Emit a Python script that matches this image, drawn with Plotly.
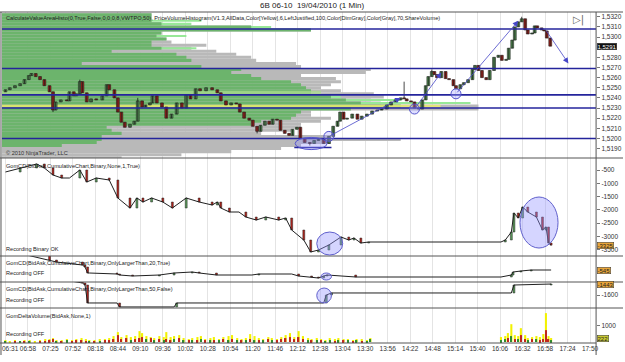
import plotly.graph_objects as go

# ---------------- data ----------------
TITLE = "6B 06-10  19/04/2010 (1 Min)"
TIME_LABELS = ["06:31", "06:58", "07:25", "07:52", "08:18", "08:44", "09:10", "09:36", "10:02",
               "10:28", "10:54", "11:20", "11:46", "12:12", "12:38", "13:04", "13:30", "13:56",
               "14:22", "14:48", "15:14", "15:40", "16:06", "16:32", "16:58", "17:24", "17:50"]
TIME_TICK_BARS = [0, 26, 52, 78, 104, 130, 156, 182, 208, 234, 260, 286, 312, 338, 364, 390,
                  416, 442, 468, 494, 520, 546, 572, 598, 624, 650, 676]

PRICE_BARS = [0, 5, 11, 17, 22, 27, 30, 35, 40, 45, 51, 55, 58, 64, 71, 74, 79, 82, 86, 89,
              94, 99, 105, 112, 117, 120, 126, 130, 134, 138, 144, 149, 153, 158, 162, 167, 170,
              175, 181, 186, 192, 198, 204, 209, 214, 220, 225, 232, 239, 245, 249, 255, 261,
              267, 271, 276, 282, 286, 291, 295, 300, 305, 309, 314, 318, 323, 328, 332, 337,
              341, 346, 352, 357, 362, 368, 374, 379, 384, 387, 391, 395, 401, 407, 412, 418,
              424, 430, 435, 441, 446, 451, 457, 461, 464, 469, 473, 478, 482, 486, 489, 493,
              496, 499, 504, 509, 513, 518, 521, 526, 530, 535, 540, 543, 547, 551, 556, 560,
              565, 570, 574, 579, 582, 586, 589, 593, 597, 601, 604, 609, 612, 615, 620, 623,
              626, 630]
PRICE_CLOSE = [1.5248, 1.5250, 1.5252, 1.5254, 1.5258, 1.5262, 1.5264, 1.5261, 1.5258, 1.5252,
               1.5246, 1.5228, 1.5236, 1.5238, 1.5237, 1.5246, 1.5242, 1.5244, 1.5256, 1.5245,
               1.5236, 1.5239, 1.5238, 1.5242, 1.5253, 1.5248, 1.5240, 1.5226, 1.5216, 1.5211,
               1.5214, 1.5217, 1.5237, 1.5231, 1.5233, 1.5235, 1.5242, 1.5235, 1.5231, 1.5220,
               1.5224, 1.5235, 1.5230, 1.5243, 1.5239, 1.5249, 1.5247, 1.5250, 1.5248, 1.5245,
               1.5237, 1.5233, 1.5235, 1.5234, 1.5226, 1.5220, 1.5218, 1.5212, 1.5207, 1.5213,
               1.5217, 1.5214, 1.5219, 1.5218, 1.5208, 1.5205, 1.5203, 1.5209, 1.5211, 1.5200,
               1.5196, 1.5195, 1.5198, 1.5199, 1.5195, 1.5202, 1.5212, 1.5217, 1.5226, 1.5219,
               1.5220, 1.5224, 1.5219, 1.5222, 1.5224, 1.5227, 1.5228, 1.5229, 1.5233, 1.5236,
               1.5238, 1.5240, 1.5239, 1.5237, 1.5236, 1.5230, 1.5229, 1.5238, 1.5252, 1.5261,
               1.5266, 1.5263, 1.5260, 1.5266, 1.5259, 1.5258, 1.5252, 1.5249, 1.5253, 1.5255,
               1.5258, 1.5268, 1.5272, 1.5267, 1.5260, 1.5258, 1.5267, 1.5280, 1.5282, 1.5277,
               1.5278, 1.5289, 1.5297, 1.5310, 1.5315, 1.5318, 1.5307, 1.5303, 1.5304, 1.5311,
               1.5309, 1.5307, 1.5306, 1.5299, 1.5291]
PRICE_FIRST_OPEN = 1.5246
PRICE_WICK_HIGH = {86: 1.5258, 153: 1.5240, 461: 1.5256, 493: 1.5268, 597: 1.5320}
PRICE_WICK_LOW = {55: 1.5226, 291: 1.5205, 352: 1.5193}
PRICE_TICKS = [1.5190, 1.5200, 1.5210, 1.5220, 1.5230, 1.5240, 1.5250, 1.5260, 1.5270,
               1.5280, 1.5300, 1.5310, 1.5320]
LAST_PRICE = 1.5291
LEVEL_LINES = [1.5308, 1.5269, 1.5243, 1.5230, 1.5200]

PROFILE_PRICE = [1.5322, 1.5319, 1.5316, 1.5313, 1.5310, 1.5307, 1.5304, 1.5301, 1.5298, 1.5295,
                 1.5292, 1.5289, 1.5286, 1.5283, 1.5280, 1.5277, 1.5274, 1.5271, 1.5268, 1.5265,
                 1.5262, 1.5259, 1.5256, 1.5253, 1.5250, 1.5247, 1.5244, 1.5241, 1.5238, 1.5235,
                 1.5232, 1.5229, 1.5226, 1.5223, 1.5220, 1.5217, 1.5214, 1.5211, 1.5208, 1.5205,
                 1.5202, 1.5199, 1.5196, 1.5193, 1.5190, 1.5187, 1.5184, 1.5181]
PROFILE_GRAY = [150, 150, 150, 160, 250, 310, 160, 160, 165, 170, 205, 190, 215, 235, 250, 255,
                295, 300, 370, 365, 300, 335, 340, 330, 320, 340, 373, 383, 370, 380, 478, 478,
                310, 310, 330, 320, 300, 300, 290, 260, 330, 400, 330, 300, 280, 230, 180, 120]
PROFILE_GREEN = [150, 150, 150, 160, 250, 310, 160, 155, 165, 150, 150, 160, 110, 175, 185, 190,
                 80, 200, 240, 230, 250, 260, 290, 300, 305, 310, 310, 330, 345, 360, 400, 350,
                 300, 295, 290, 260, 250, 105, 110, 120, 100, 100, 95, 60, 0, 0, 0, 0]
PROFILE_LIME = [0, 0, 200, 190, 270, 300, 0, 185, 0, 0, 0, 195, 0, 0, 0, 0,
                0, 0, 0, 0, 0, 0, 0, 0, 0, 0, 0, 340, 400, 470, 0, 0,
                0, 0, 0, 0, 0, 0, 0, 0, 0, 0, 0, 0, 0, 0, 0, 0]
VWTPO_BAND = (1.5245, 320)
POC_LEVEL = (1.5232, 440)

# trend arrows (bar, price) -> (bar, price)
ARROWS = [((374, 1.5202), (457, 1.5240)),
          ((473, 1.5229), (504, 1.5265)),
          ((521, 1.5244), (593, 1.5316)),
          ((624, 1.5308), (651, 1.5274))]
PIVOT_CIRCLES = [(374, 1.5202), (473, 1.5229), (521, 1.5244)]
PRICE_ELLIPSE = (335, 372, 1.5189, 1.5201)
PRICE_SEGMENT = (334, 377, 1.5191)

# cumulative delta (panel 2)
CD_BARS = [0, 17, 36, 45, 55, 65, 74, 86, 94, 105, 120, 130, 144, 152, 159, 169, 182, 193, 209,
           224, 239, 245, 249, 259, 270, 278, 290, 301, 316, 324, 331, 345, 353, 362, 374, 388,
           397, 403, 411, 420, 573, 578, 585, 588, 593, 598, 604, 614, 621, 625, 628, 631]
CD_VALUES = [-575, -425, -274, -425, -688, -801, -801, -500, -951, -801, -876, -1553, -1929,
             -1553, -1703, -1553, -1703, -1929, -1553, -1703, -1816, -1703, -1929, -2079, -2079,
             -2267, -2380, -2267, -2380, -2305, -2756, -3132, -3583, -3508, -3320, -3019, -3132,
             -3057, -3245, -3207, -3207, -3132, -2831, -2117, -2305, -1891, -2079, -2267, -2756,
             -2643, -3245, -3325]
CD_TICKS = [-500, -1000, -1500, -2000, -2500, -3000, -3500]
CD_LAST = -3325
CD_ELLIPSES = [(360, 390, -3696, -2831), (595, 639, -3433, -1515)]

# cumulative delta, only larger than 20 (panel 3)
CD20_BARS = [0, 51, 59, 89, 92, 95, 97, 129, 132, 147, 178, 195, 216, 224, 244, 262, 285, 293,
             331, 339, 354, 362, 368, 372, 405, 573, 585, 587, 596, 608, 631]
CD20_VALUES = [-245, -395, -425, -470, -500, -590, -590, -605, -620, -635, -620, -590, -575,
               -590, -620, -620, -620, -605, -605, -635, -650, -665, -635, -620, -650, -650,
               -620, -575, -560, -545, -545]
CD20_LAST = -545
CD20_CIRCLE = (365, 377, -695, -590)

# cumulative delta, only larger than 50 (panel 4)
CD50_BARS = [0, 89, 92, 95, 97, 129, 132, 195, 198, 368, 371, 377, 585, 588, 631]
CD50_VALUES = [-1243, -1428, -1457, -1714, -1714, -1714, -1771, -1771, -1714, -1714, -1600,
               -1571, -1571, -1457, -1443]
CD50_TICKS = [-1600]
CD50_LAST = -1443
CD50_CIRCLE = (360, 377, -1714, -1500)

# delta volume (panel 5)
VOL_BARS = [0, 5, 11, 17, 22, 28, 34, 40, 46, 51, 55, 59, 65, 71, 77, 82, 88, 93, 97, 103, 109,
            115, 120, 125, 130, 134, 140, 145, 150, 155, 158, 163, 168, 172, 178, 183, 186, 191,
            195, 201, 206, 212, 216, 222, 226, 231, 237, 241, 247, 252, 258, 262, 268, 273, 278,
            283, 288, 293, 298, 304, 308, 314, 319, 324, 329, 334, 339, 344, 350, 354, 360, 365,
            370, 375, 381, 385, 391, 396, 402, 406, 412, 418, 422,
            573, 578, 581, 585, 589, 593, 596, 601, 604, 609, 614, 618, 622, 625, 628, 631]
VOL_TOTAL = [120, 60, 120, 60, 120, 120, 60, 120, 180, 180, 240, 120, 120, 180, 120, 180, 240,
             180, 120, 120, 180, 180, 240, 360, 600, 300, 420, 300, 360, 660, 540, 360, 300, 240,
             360, 300, 600, 300, 360, 420, 240, 180, 240, 300, 360, 180, 240, 300, 180, 300, 360,
             420, 240, 180, 240, 480, 360, 240, 180, 300, 240, 180, 300, 420, 540, 300, 660, 360,
             240, 180, 240, 180, 120, 240, 180, 240, 180, 180, 120, 180, 180, 120, 240,
             300, 360, 540, 1080, 420, 360, 840, 420, 240, 300, 360, 300, 480, 1750, 360, 240]
VOL_DELTA = [60, 0, -60, 60, -60, 60, 0, -60, -60, -120, -180, 60, -60, 120, -60, -120, -120,
             -60, 60, -60, 60, -120, -120, -180, -420, -180, -240, 120, -180, -240, -300, 180,
             -240, 120, -180, 120, -180, -120, 180, -240, 120, -120, 120, -120, 180, -120, 120,
             -120, 120, -180, 120, -180, 120, -120, 120, -180, 120, -120, 120, -180, 120, -120,
             -180, -240, -300, -180, -300, -180, 120, -120, 120, -120, 60, 120, -60, 120, -120,
             120, -60, 120, -60, 60, 180,
             120, 180, -240, 360, -180, 180, -420, -180, 120, -180, 180, -120, -180, -720, -180,
             120]
VOL_TICKS = [1000]
VOL_LAST = 222

INDICATOR_TEXT = ("CalculateValueAreaHisto(0,True,False,0,0,0,8,VWTPO,50), PriceVolumeHistogram"
                  "(V1.3,AllData,Color[Yellow],6,LeftJustified,100,Color[DimGray],Color[Gray],70,ShareVolume)")
PANEL_TEXTS = [
    ("GomCD(BidAsk,CumulativeChart,Binary,None,1,True)", 166),
    ("Recording Binary OK", 249),
    ("GomCD(BidAsk,CumulativeChart,Binary,OnlyLargerThan,20,True)", 263),
    ("Recording OFF", 273),
    ("GomCD(BidAsk,CumulativeChart,Binary,OnlyLargerThan,50,False)", 289),
    ("Recording OFF", 300),
    ("GomDeltaVolume(BidAsk,None,1)", 316),
    ("Recording OFF", 334),
]

# ---------------- styling / layout helpers ----------------
W, H = 625, 362
FONT = "Liberation Sans, Arial, sans-serif"
UP = "#5a9c5a"
DOWN = "#b3231b"
BLUE = "#24249c"
EDGE = "#1a1a1a"


def pyp(p):
    return 1 - p / H


XD = [2 / W, 598 / W]
XR = [-4.0, 683.0]
DOM = {"y": [pyp(158), pyp(12)], "y2": [pyp(256), pyp(158)], "y3": [pyp(282), pyp(256)],
       "y4": [pyp(308), pyp(282)], "y5": [pyp(343), pyp(308)]}

fig = go.Figure()

# ---- volume profile (base subplot x6/y)
fig.add_trace(go.Bar(x=PROFILE_GRAY, y=PROFILE_PRICE, orientation="h", width=0.0003,
                     marker=dict(color="#b9b9b9", line=dict(width=0)), xaxis="x6", yaxis="y",
                     hoverinfo="skip", showlegend=False))
fig.add_trace(go.Bar(x=PROFILE_LIME, y=PROFILE_PRICE, orientation="h", width=0.0002,
                     marker=dict(color="#98e898", line=dict(width=0)), xaxis="x6", yaxis="y",
                     hoverinfo="skip", showlegend=False))
fig.add_trace(go.Bar(x=PROFILE_GREEN, y=PROFILE_PRICE, orientation="h", width=0.0003,
                     marker=dict(color="#6cb46c", line=dict(width=0)), xaxis="x6", yaxis="y",
                     hoverinfo="skip", showlegend=False))
fig.add_trace(go.Bar(x=[VWTPO_BAND[1]], y=[VWTPO_BAND[0]], orientation="h", width=0.0004,
                     marker=dict(color="rgba(170,220,140,0.75)", line=dict(width=0)),
                     xaxis="x6", yaxis="y", hoverinfo="skip", showlegend=False))
fig.add_trace(go.Bar(x=[POC_LEVEL[1]], y=[POC_LEVEL[0]], orientation="h", width=0.00022,
                     marker=dict(color="rgba(235,235,110,0.85)", line=dict(width=0)),
                     xaxis="x6", yaxis="y", hoverinfo="skip", showlegend=False))

# ---- candles (overlay x7): wicks + bodies
opens = [PRICE_FIRST_OPEN] + PRICE_CLOSE[:-1]
wx, wy = [], []
for b, o, c in zip(PRICE_BARS, opens, PRICE_CLOSE):
    hi = PRICE_WICK_HIGH.get(b, max(o, c))
    lo = PRICE_WICK_LOW.get(b, min(o, c))
    wx += [b, b, None]
    wy += [lo, hi, None]
fig.add_trace(go.Scatter(x=wx, y=wy, mode="lines", line=dict(color=EDGE, width=0.8),
                         xaxis="x7", yaxis="y", hoverinfo="skip", showlegend=False))
body_h = [max(abs(c - o), 0.00003) for o, c in zip(opens, PRICE_CLOSE)]
body_b = [min(o, c) for o, c in zip(opens, PRICE_CLOSE)]
body_c = [UP if c >= o else DOWN for o, c in zip(opens, PRICE_CLOSE)]
fig.add_trace(go.Bar(x=PRICE_BARS, y=body_h, base=body_b, width=3.3,
                     marker=dict(color=body_c, line=dict(color=EDGE, width=0.6)),
                     xaxis="x7", yaxis="y", hoverinfo="skip", showlegend=False))
for lvl in LEVEL_LINES:
    fig.add_trace(go.Scatter(x=XR, y=[lvl, lvl], mode="lines", line=dict(color=BLUE, width=1.6),
                             xaxis="x7", yaxis="y", hoverinfo="skip", showlegend=False))
fig.add_trace(go.Scatter(x=[PRICE_SEGMENT[0], PRICE_SEGMENT[1]],
                         y=[PRICE_SEGMENT[2], PRICE_SEGMENT[2]], mode="lines",
                         line=dict(color=BLUE, width=1.4), xaxis="x7", yaxis="y",
                         hoverinfo="skip", showlegend=False))
fig.add_trace(go.Scatter(x=[c[0] for c in PIVOT_CIRCLES], y=[c[1] for c in PIVOT_CIRCLES],
                         mode="markers",
                         marker=dict(symbol="circle", size=10, color="rgba(160,160,255,0.35)",
                                     line=dict(color="#5555cc", width=1)),
                         xaxis="x7", yaxis="y", hoverinfo="skip", showlegend=False))


# ---- cumulative delta panels
def step_panel(bars, vals, xa, ya, width):
    fig.add_trace(go.Scatter(x=bars, y=vals, mode="lines", line=dict(color="#202020", width=1),
                             xaxis=xa, yaxis=ya, hoverinfo="skip", showlegend=False))
    ob, base, h, col = [], [], [], []
    for i in range(1, len(bars)):
        d = vals[i] - vals[i - 1]
        if d == 0:
            continue
        ob.append(bars[i])
        base.append(vals[i - 1])
        h.append(d)
        col.append(UP if d > 0 else DOWN)
    fig.add_trace(go.Bar(x=ob, y=h, base=base, width=width,
                         marker=dict(color=col, line=dict(color="#202020", width=0.5)),
                         xaxis=xa, yaxis=ya, hoverinfo="skip", showlegend=False))


step_panel(CD_BARS, CD_VALUES, "x2", "y2", 2.2)
step_panel(CD20_BARS, CD20_VALUES, "x3", "y3", 2.2)
step_panel(CD50_BARS, CD50_VALUES, "x4", "y4", 2.2)

# ---- delta volume panel
fig.add_trace(go.Bar(x=VOL_BARS, y=VOL_TOTAL, width=2.4, marker=dict(color="#f2f200", line=dict(width=0)),
                     xaxis="x", yaxis="y5", hoverinfo="skip", showlegend=False))
fig.add_trace(go.Bar(x=VOL_BARS, y=[abs(v) for v in VOL_DELTA], width=1.6,
                     marker=dict(color=["#2e8b2e" if v > 0 else "#c0261c" for v in VOL_DELTA],
                                 line=dict(width=0)),
                     xaxis="x", yaxis="y5", hoverinfo="skip", showlegend=False))

# ---------------- layout ----------------
tick_font = dict(family=FONT, size=6.5, color="#333333")
grid = "#e4e4e4"
xcommon = dict(domain=XD, range=XR, tickvals=TIME_TICK_BARS, showgrid=True, gridcolor=grid,
               gridwidth=1, zeroline=False, showline=False, ticks="")
layout = dict(
    width=W, height=H, margin=dict(l=0, r=0, t=0, b=0),
    paper_bgcolor="white", plot_bgcolor="white", barmode="overlay", showlegend=False,
    xaxis=dict(xcommon, anchor="y5", ticktext=[""] + TIME_LABELS[1:], tickfont=tick_font, ticklen=0),
    xaxis2=dict(xcommon, anchor="y2", showticklabels=False),
    xaxis3=dict(xcommon, anchor="y3", showticklabels=False),
    xaxis4=dict(xcommon, anchor="y4", showticklabels=False),
    xaxis6=dict(domain=XD, range=[0, 596], anchor="y", visible=False),
    xaxis7=dict(xcommon, overlaying="x6", anchor="y", showticklabels=False),
)
ycommon = dict(side="right", showgrid=False, zeroline=False, showline=False, ticks="outside",
               ticklen=3, tickcolor="#777777", tickfont=tick_font)
layout["yaxis"] = dict(ycommon, domain=DOM["y"], anchor="x6", range=[1.51807, 1.53247],
                       tickvals=PRICE_TICKS, ticktext=[f"{t:.4f}".replace(".", ",") for t in PRICE_TICKS])
layout["yaxis2"] = dict(ycommon, domain=DOM["y2"], anchor="x2", range=[-3733, -49],
                        tickvals=CD_TICKS, ticktext=[str(t) for t in CD_TICKS])
layout["yaxis3"] = dict(ycommon, domain=DOM["y3"], anchor="x3", range=[-725, -335],
                        tickvals=[])
layout["yaxis4"] = dict(ycommon, domain=DOM["y4"], anchor="x4", range=[-1786, -1414],
                        tickvals=CD50_TICKS, ticktext=[str(t) for t in CD50_TICKS])
layout["yaxis5"] = dict(ycommon, domain=DOM["y5"], anchor="x", range=[-60, 2060],
                        tickvals=VOL_TICKS, ticktext=[str(t) for t in VOL_TICKS])
fig.update_layout(**layout)

shapes = []
frame = dict(color="#555555", width=1)
for ypx in [12, 158, 256, 282, 308]:
    shapes.append(dict(type="line", xref="paper", yref="paper", x0=0, x1=1, y0=pyp(ypx), y1=pyp(ypx), line=frame))
shapes.append(dict(type="line", xref="paper", yref="paper", x0=0, x1=598 / W, y0=pyp(343), y1=pyp(343), line=frame))
shapes.append(dict(type="line", xref="paper", yref="paper", x0=598 / W, x1=598 / W, y0=pyp(355), y1=pyp(12), line=frame))
shapes.append(dict(type="line", xref="paper", yref="paper", x0=1 / W, x1=1 / W, y0=pyp(355), y1=pyp(12), line=frame))
shapes.append(dict(type="circle", xref="x7", yref="y", x0=PRICE_ELLIPSE[0], x1=PRICE_ELLIPSE[1],
                   y0=PRICE_ELLIPSE[2], y1=PRICE_ELLIPSE[3], fillcolor="rgba(150,150,255,0.35)",
                   line=dict(color="#5555cc", width=1)))
for (x0, x1, y0, y1) in CD_ELLIPSES:
    shapes.append(dict(type="circle", xref="x2", yref="y2", x0=x0, x1=x1, y0=y0, y1=y1,
                       fillcolor="rgba(150,150,255,0.4)", line=dict(color="#6060cc", width=1)))
shapes.append(dict(type="circle", xref="x3", yref="y3", x0=CD20_CIRCLE[0], x1=CD20_CIRCLE[1],
                   y0=CD20_CIRCLE[2], y1=CD20_CIRCLE[3], fillcolor="rgba(150,150,255,0.4)",
                   line=dict(color="#6060cc", width=1)))
shapes.append(dict(type="circle", xref="x4", yref="y4", x0=CD50_CIRCLE[0], x1=CD50_CIRCLE[1],
                   y0=CD50_CIRCLE[2], y1=CD50_CIRCLE[3], fillcolor="rgba(150,150,255,0.4)",
                   line=dict(color="#6060cc", width=1)))
fig.update_layout(shapes=shapes)

ann = []
ann.append(dict(text=TITLE, xref="paper", yref="paper", x=0.5, y=pyp(6), showarrow=False,
                font=dict(family=FONT, size=8, color="#222222"), xanchor="center", yanchor="middle"))
ann.append(dict(text=INDICATOR_TEXT, xref="paper", yref="paper", x=4 / W, y=pyp(18), showarrow=False,
                font=dict(family=FONT, size=5.6, color="#222222"), xanchor="left", yanchor="middle"))
ann.append(dict(text="© 2010 NinjaTrader, LLC", xref="paper", yref="paper", x=4 / W, y=pyp(153),
                showarrow=False, font=dict(family=FONT, size=5.6, color="#333333"),
                xanchor="left", yanchor="middle"))
ann.append(dict(text="▷|", xref="paper", yref="paper", x=588 / W, y=pyp(20), showarrow=False,
                font=dict(family="DejaVu Sans", size=10, color="#666666"), xanchor="right", yanchor="middle"))
ann.append(dict(text=TIME_LABELS[0], xref="paper", yref="paper", x=0.5 / W, y=pyp(348),
                showarrow=False, font=tick_font, xanchor="left", yanchor="middle"))
for txt, ypx in PANEL_TEXTS:
    ann.append(dict(text=txt, xref="paper", yref="paper", x=4 / W, y=pyp(ypx), showarrow=False,
                    font=dict(family=FONT, size=5.6, color="#222222"), xanchor="left", yanchor="middle"))
for (s, e) in ARROWS:
    ann.append(dict(x=e[0], y=e[1], ax=s[0], ay=s[1], xref="x7", yref="y", axref="x7", ayref="y",
                    showarrow=True, arrowhead=2, arrowsize=1.4, arrowwidth=0.8, arrowcolor="#4646c8",
                    text=""))


def box(text, yref, yval, bg, fg):
    return dict(text=text, xref="paper", yref=yref, x=599 / W, y=yval, showarrow=False,
                xanchor="left", yanchor="middle", bgcolor=bg, bordercolor="#333333", borderwidth=0.5,
                borderpad=0, font=dict(family=FONT, size=6, color=fg))


ann.append(box(f"{LAST_PRICE:.4f}".replace(".", ","), "y", LAST_PRICE, "#111111", "white"))
ann.append(box(str(CD_LAST), "y2", CD_LAST, "#e8a53a", "#222222"))
ann.append(box(str(CD20_LAST), "y3", CD20_LAST, "#e8a53a", "#222222"))
ann.append(box(str(CD50_LAST), "y4", CD50_LAST, "#e8a53a", "#222222"))
ann.append(box(str(VOL_LAST), "y5", VOL_LAST, "#c8c832", "#222222"))
fig.update_layout(annotations=ann)

fig.write_html("out.html")
